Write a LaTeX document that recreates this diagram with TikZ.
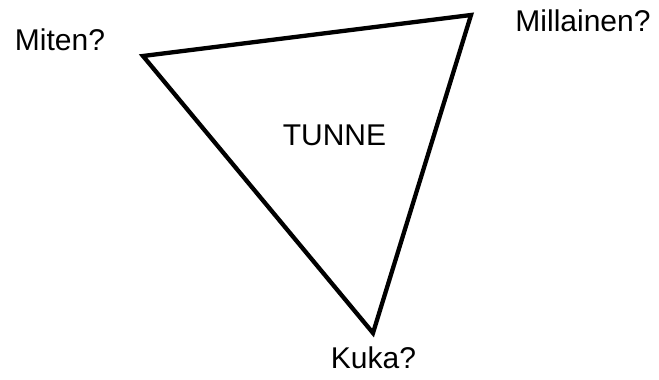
\documentclass[tikz,border=0pt]{standalone}
\usepackage{fontspec}
\setmainfont{Liberation Sans}
\begin{document}
\begin{tikzpicture}[x=1pt,y=-1pt,
  lbl/.style={inner sep=0pt,anchor=base,font=\fontsize{30}{32}\selectfont},
  edge/.style={line width=4.3pt,line join=miter,draw=black}]
\useasboundingbox (0,0) rectangle (659,380);
% vertices
\coordinate (L) at (143,56);
\coordinate (R) at (471,15);
\coordinate (B) at (373,333);
\draw[edge] (L) -- (R) -- (B) -- cycle;
% labels
\node[lbl] (miten) at (60,50) {Miten?};
\node[lbl] (millainen) at (583,31) {Millainen?};
\node[lbl] (tunne) at (334.5,145) {TUNNE};
\node[lbl] (kuka) at (373.5,368) {Kuka?};
\end{tikzpicture}
\end{document}
